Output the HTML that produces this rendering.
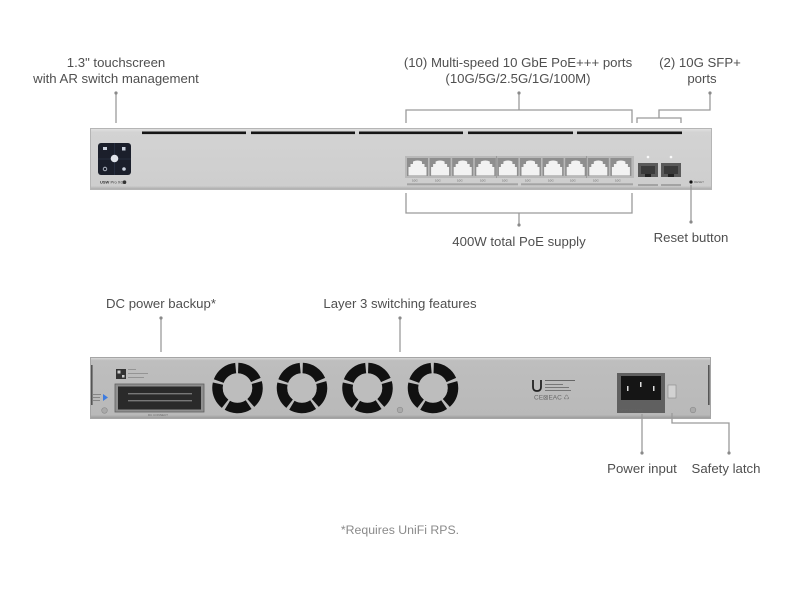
<!DOCTYPE html>
<html>
<head>
<meta charset="utf-8">
<style>
html,body{margin:0;padding:0;background:#fff;}
svg{display:block;}
.lbl{font-family:"Liberation Sans",Arial,sans-serif;font-size:13.2px;fill:#4f4f4f;}
.ln{stroke:#9a9a9a;stroke-width:1.3;fill:none;}
.dot{fill:#8a8a8a;}
.tiny{font-family:"Liberation Sans",Arial,sans-serif;font-size:3px;fill:#666;}
</style>
</head>
<body>
<svg width="800" height="600" viewBox="0 0 800 600" xmlns="http://www.w3.org/2000/svg">
<defs>
  <linearGradient id="topg" x1="0" y1="0" x2="0" y2="1">
    <stop offset="0" stop-color="#e2e2e2"/>
    <stop offset="0.06" stop-color="#d3d3d3"/>
    <stop offset="0.94" stop-color="#cecece"/>
    <stop offset="1" stop-color="#a9a9a9"/>
  </linearGradient>
  <linearGradient id="botg" x1="0" y1="0" x2="0" y2="1">
    <stop offset="0" stop-color="#dcdcdc"/>
    <stop offset="0.05" stop-color="#bebebe"/>
    <stop offset="0.94" stop-color="#b9b9b9"/>
    <stop offset="1" stop-color="#989898"/>
  </linearGradient>
  <g id="port">
    <rect x="0" y="0" width="21" height="18" fill="#8e8e8e"/>
    <path d="M1.5 17.5 V9 H3.5 V6 H6 V3.5 Q10.5 1.5 15 3.5 V6 H17.5 V9 H19.5 V17.5 Z" fill="#f2f2f2"/>
  </g>
  <g id="fan">
    <circle cx="0" cy="0" r="20" fill="none" stroke="#111" stroke-width="10.5" stroke-dasharray="22.4 2.73" transform="rotate(-88)"/>
    <circle cx="0" cy="0" r="14.6" fill="#bdbdbd"/>
  </g>
</defs>

<!-- ===== TOP LABELS ===== -->
<text class="lbl" x="116" y="67" text-anchor="middle">1.3" touchscreen</text>
<text class="lbl" x="116" y="83" text-anchor="middle">with AR switch management</text>
<line class="ln" x1="116" y1="93" x2="116" y2="123"/>
<circle class="dot" cx="116" cy="93" r="1.6"/>

<text class="lbl" x="518" y="67" text-anchor="middle">(10) Multi-speed 10 GbE PoE+++ ports</text>
<text class="lbl" x="518" y="83" text-anchor="middle">(10G/5G/2.5G/1G/100M)</text>
<line class="ln" x1="519" y1="93" x2="519" y2="110"/>
<circle class="dot" cx="519" cy="93" r="1.6"/>
<path class="ln" d="M406 123 V110 H632 V123"/>

<text class="lbl" x="700" y="67" text-anchor="middle">(2) 10G SFP+</text>
<text class="lbl" x="702" y="83" text-anchor="middle">ports</text>
<path class="ln" d="M637 123 V118 H681 V123"/>
<path class="ln" d="M659 118 V110 H710 V93"/>
<circle class="dot" cx="710" cy="93" r="1.6"/>

<!-- ===== TOP SWITCH ===== -->
<rect x="90.5" y="128.5" width="621" height="61" fill="url(#topg)" stroke="#b5b5b5" stroke-width="1"/>
<g fill="#151515">
  <rect x="142" y="131.5" width="104" height="2.6"/>
  <rect x="251" y="131.5" width="104" height="2.6"/>
  <rect x="359" y="131.5" width="104" height="2.6"/>
  <rect x="468" y="131.5" width="105" height="2.6"/>
  <rect x="577" y="131.5" width="105" height="2.6"/>
</g>
<!-- touchscreen -->
<rect x="98" y="143" width="33" height="32" rx="3" fill="#1b1f2b"/>
<line x1="98" y1="159" x2="131" y2="159" stroke="#2f3a50" stroke-width="0.6"/>
<line x1="114.5" y1="143" x2="114.5" y2="175" stroke="#2f3a50" stroke-width="0.6"/>
<circle cx="114.5" cy="158.5" r="3.8" fill="#dfe3ea"/>
<rect x="103" y="147" width="4" height="3" fill="#c9d0dc"/>
<rect x="122" y="147" width="3.5" height="3.5" fill="#c9d0dc"/>
<circle cx="105" cy="169" r="1.8" fill="none" stroke="#c9d0dc" stroke-width="0.8"/>
<circle cx="124" cy="169" r="1.8" fill="#c9d0dc"/>
<text x="100" y="183.5" font-family="Liberation Sans,Arial,sans-serif" font-size="4" font-weight="bold" fill="#333">USW <tspan font-weight="normal">Pro XG</tspan></text>
<circle cx="124.5" cy="182.2" r="1.8" fill="#333"/>

<!-- RJ45 ports -->
<rect x="405" y="156" width="229" height="22" fill="#b9b9b9"/>
<use href="#port" x="407" y="158"/>
<use href="#port" x="429.6" y="158"/>
<use href="#port" x="452.2" y="158"/>
<use href="#port" x="474.8" y="158"/>
<use href="#port" x="497.4" y="158"/>
<use href="#port" x="520" y="158"/>
<use href="#port" x="542.6" y="158"/>
<use href="#port" x="565.2" y="158"/>
<use href="#port" x="587.8" y="158"/>
<use href="#port" x="610.4" y="158"/>
<line x1="496.3" y1="156" x2="496.3" y2="178" stroke="#888" stroke-width="0.6"/>
<line x1="586.7" y1="156" x2="586.7" y2="178" stroke="#888" stroke-width="0.6"/>
<g class="tiny">
  <text x="412" y="181.5">10G</text><text x="435" y="181.5">10G</text><text x="457" y="181.5">10G</text><text x="480" y="181.5">10G</text><text x="502" y="181.5">10G</text>
  <text x="525" y="181.5">10G</text><text x="548" y="181.5">10G</text><text x="570" y="181.5">10G</text><text x="593" y="181.5">10G</text><text x="615" y="181.5">10G</text>
</g>
<rect x="407" y="183.3" width="111" height="2" fill="#a3a3a3"/>
<rect x="521" y="183.3" width="112" height="2" fill="#a3a3a3"/>

<!-- SFP -->
<circle cx="648" cy="157" r="1.3" fill="#fafafa"/>
<circle cx="671" cy="157" r="1.3" fill="#fafafa"/>
<rect x="638" y="163" width="20" height="14" fill="#5a5a5a"/>
<rect x="661" y="163" width="20" height="14" fill="#5a5a5a"/>
<rect x="641" y="166" width="14" height="8" fill="#3a3a3a"/>
<rect x="664" y="166" width="14" height="8" fill="#3a3a3a"/>
<rect x="645" y="174" width="6" height="3" fill="#222"/>
<rect x="668" y="174" width="6" height="3" fill="#222"/>
<rect x="638" y="184" width="20" height="2" fill="#a3a3a3"/>
<rect x="661" y="184" width="20" height="2" fill="#a3a3a3"/>
<circle cx="691" cy="182" r="1.6" fill="#111"/>
<text class="tiny" x="694" y="183">RESET</text>

<!-- bottom connectors of top switch -->
<path class="ln" d="M406 193 V213 H632 V193"/>
<line class="ln" x1="519" y1="213" x2="519" y2="225"/>
<circle class="dot" cx="519" cy="225" r="1.6"/>
<text class="lbl" x="519" y="246" text-anchor="middle">400W total PoE supply</text>
<line class="ln" x1="691" y1="185" x2="691" y2="222"/>
<circle class="dot" cx="691" cy="222" r="1.6"/>
<text class="lbl" x="691" y="242" text-anchor="middle">Reset button</text>

<!-- ===== BOTTOM LABELS ===== -->
<text class="lbl" x="161" y="308" text-anchor="middle">DC power backup*</text>
<line class="ln" x1="161" y1="318" x2="161" y2="352"/>
<circle class="dot" cx="161" cy="318" r="1.6"/>
<text class="lbl" x="400" y="308" text-anchor="middle">Layer 3 switching features</text>
<line class="ln" x1="400" y1="318" x2="400" y2="352"/>
<circle class="dot" cx="400" cy="318" r="1.6"/>

<!-- ===== BOTTOM SWITCH ===== -->
<rect x="90.5" y="357.5" width="620" height="61" fill="url(#botg)" stroke="#a5a5a5" stroke-width="1"/>
<rect x="91" y="365" width="1.6" height="40" fill="#555"/>
<rect x="708" y="365" width="1.6" height="40" fill="#555"/>

<!-- left labels / QR -->
<rect x="116" y="369" width="10" height="10" fill="#333"/>
<rect x="117.5" y="370.5" width="3" height="3" fill="#ccc"/>
<rect x="122" y="375" width="2.5" height="2.5" fill="#ccc"/>
<g fill="#8a8a8a">
  <rect x="128" y="369" width="8" height="0.8"/>
  <rect x="128" y="373" width="20" height="0.8"/>
  <rect x="128" y="377" width="16" height="0.8"/>
</g>
<g fill="#7a7a7a">
  <rect x="93" y="394" width="8" height="0.8"/>
  <rect x="93" y="397" width="7" height="0.8"/>
  <rect x="93" y="400" width="7" height="0.8"/>
</g>
<path d="M103 394 L108 397.5 L103 401 Z" fill="#3d7be0"/>
<circle cx="104.5" cy="410.5" r="2.8" fill="#a9a9a9" stroke="#8a8a8a" stroke-width="0.6"/>

<!-- DC connector -->
<rect x="115" y="384" width="89" height="28" fill="#8f8f8f" stroke="#5f5f5f" stroke-width="0.8"/>
<rect x="118" y="386.5" width="83" height="23" fill="#2a2a2a"/>
<g fill="#777">
  <rect x="128" y="393" width="64" height="1.4"/>
  <rect x="128" y="400" width="64" height="1.4"/>
</g>
<text class="tiny" x="148" y="416">DC CONNECT</text>

<!-- fans -->
<use href="#fan" x="237.5" y="388"/>
<use href="#fan" x="302" y="388"/>
<use href="#fan" x="367.5" y="388"/>
<use href="#fan" x="433" y="388"/>
<circle cx="400" cy="410" r="2.8" fill="#aaa" stroke="#8a8a8a" stroke-width="0.6"/>

<!-- logo & marks -->
<path d="M533 380 V387 Q533 391 537 391 Q541 391 541 387 V380" fill="none" stroke="#222" stroke-width="1.8"/>
<g fill="#666">
  <rect x="545" y="380" width="30" height="1"/>
  <rect x="545" y="384" width="18" height="0.8"/>
  <rect x="545" y="387" width="24" height="0.8"/>
  <rect x="545" y="390" width="26" height="0.8"/>
</g>
<text x="534" y="399.5" font-family="Liberation Sans,Arial,sans-serif" font-size="6.5" fill="#6a6a6a">CE⊠EAC ♺</text>

<!-- power inlet -->
<rect x="617" y="373" width="48" height="40" fill="#606060"/>
<rect x="621" y="376" width="40" height="24" fill="#151515"/>
<rect x="627" y="386" width="1.5" height="5" fill="#ddd"/>
<rect x="640" y="382" width="1.5" height="5" fill="#ddd"/>
<rect x="653" y="386" width="1.5" height="5" fill="#ddd"/>
<text class="tiny" x="619" y="411">INPUT 100-240V~</text>
<rect x="668" y="385" width="8" height="13" fill="#d2d2d2" stroke="#8a8a8a" stroke-width="0.6"/>
<circle cx="693" cy="410" r="2.8" fill="#aaa" stroke="#8a8a8a" stroke-width="0.6"/>

<!-- bottom connectors -->
<line class="ln" x1="642" y1="414" x2="642" y2="453"/>
<circle class="dot" cx="642" cy="453" r="1.6"/>
<text class="lbl" x="642" y="473" text-anchor="middle">Power input</text>
<path class="ln" d="M672 413 V423 H729 V453"/>
<circle class="dot" cx="729" cy="453" r="1.6"/>
<text class="lbl" x="726" y="473" text-anchor="middle">Safety latch</text>

<!-- footer -->
<text x="400" y="534" text-anchor="middle" font-family="Liberation Sans,Arial,sans-serif" font-size="12.3" fill="#8a8a8a">*Requires UniFi RPS.</text>
</svg>
</body>
</html>
